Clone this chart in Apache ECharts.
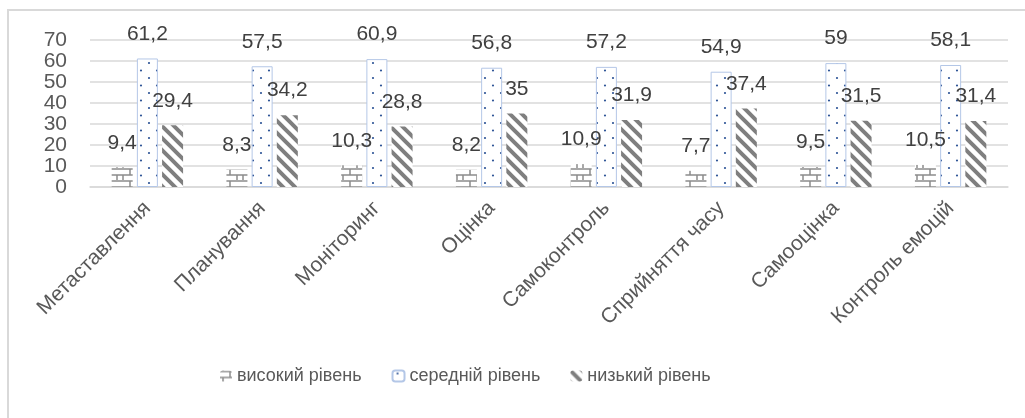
<!DOCTYPE html>
<html>
<head>
<meta charset="utf-8">
<script src="https://cdn.jsdelivr.net/npm/echarts@6/dist/echarts.min.js"></script>
<style>
  html, body { margin: 0; padding: 0; background: #fff; }
  #chart { width: 1025px; height: 418px; }
</style>
</head>
<body>
<div id="chart"></div>
<script>
const categories = ['Метаставлення', 'Планування', 'Моніторинг', 'Оцінка', 'Самоконтроль', 'Сприйняття часу', 'Самооцінка', 'Контроль емоцій'];
const seriesNames = ['високий рівень', 'середній рівень', 'низький рівень'];
const highLevel = [9.4, 8.3, 10.3, 8.2, 10.9, 7.7, 9.5, 10.5];
const midLevel = [61.2, 57.5, 60.9, 56.8, 57.2, 54.9, 59, 58.1];
const lowLevel = [29.4, 34.2, 28.8, 35, 31.9, 37.4, 31.5, 31.4];
const yTicks = { min: 0, max: 70, interval: 10 };

const FONT = '"Liberation Sans", Arial, sans-serif';

// pattern tiles (Excel-like hatch fills)
function tile(w, h, draw) {
    const c = document.createElement('canvas');
    c.width = w; c.height = h;
    const ctx = c.getContext('2d');
    ctx.fillStyle = '#fff';
    ctx.fillRect(0, 0, w, h);
    draw(ctx);
    return { image: c, repeat: 'repeat' };
}

const brick = tile(20, 12, ctx => {
    ctx.strokeStyle = '#8c8c8c';
    ctx.lineWidth = 1.5;
    ctx.beginPath();
    ctx.moveTo(0, 1); ctx.lineTo(20, 1);
    ctx.moveTo(0, 7); ctx.lineTo(20, 7);
    ctx.moveTo(10, 1); ctx.lineTo(10, 7);
    ctx.moveTo(3, 7); ctx.lineTo(3, 12);
    ctx.moveTo(17, 7); ctx.lineTo(17, 12);
    ctx.stroke();
});

const dots = tile(16, 15, ctx => {
    ctx.fillStyle = '#2f5597';
    ctx.beginPath();
    ctx.arc(5, 3, 1.1, 0, Math.PI * 2);
    ctx.arc(13, 10.5, 1.1, 0, Math.PI * 2);
    ctx.fill();
});

const stripes = tile(12, 12, ctx => {
    ctx.strokeStyle = '#7f7f7f';
    ctx.lineWidth = 4;
    ctx.beginPath();
    ctx.moveTo(-2, -2); ctx.lineTo(14, 14);
    ctx.moveTo(-8, 4); ctx.lineTo(2, 14);
    ctx.moveTo(10, -2); ctx.lineTo(20, 8);
    ctx.stroke();
});

const labelFmt = p => String(p.value).replace('.', ',');

function barSeries(name, data, fill, border) {
    return {
        name: name,
        type: 'bar',
        data: data,
        barWidth: 21,
        barGap: '20%',
        itemStyle: {
            color: fill,
            borderColor: border || 'transparent',
            borderWidth: border ? 1 : 0
        },
        label: {
            show: true,
            position: 'top',
            distance: 14,
            formatter: labelFmt,
            color: '#404040',
            fontSize: 21,
            fontFamily: FONT
        }
    };
}

const chart = echarts.init(document.getElementById('chart'));
chart.setOption({
    animation: false,
    backgroundColor: '#fff',
    graphic: [{
        type: 'rect',
        shape: { x: 8, y: 10, width: 1200, height: 600 },
        style: { fill: null, stroke: '#d9d9d9', lineWidth: 2 },
        silent: true
    }],
    grid: { left: 90, right: 17, top: 40, height: 147, containLabel: false },
    legend: {
        left: 215,
        top: 362,
        itemWidth: 12,
        itemHeight: 11,
        itemGap: 30,
        textStyle: { color: '#595959', fontSize: 18, fontFamily: FONT },
        data: seriesNames
    },
    xAxis: {
        type: 'category',
        data: categories,
        axisLine: { lineStyle: { color: '#d9d9d9', width: 1.5 } },
        axisTick: { show: false },
        axisLabel: {
            rotate: 45,
            margin: 18,
            interval: 0,
            color: '#595959',
            fontSize: 21,
            fontFamily: FONT
        }
    },
    yAxis: {
        type: 'value',
        min: yTicks.min,
        max: yTicks.max,
        interval: yTicks.interval,
        axisLine: { show: false },
        axisTick: { show: false },
        splitLine: { lineStyle: { color: '#d9d9d9', width: 1.5 } },
        axisLabel: {
            margin: 23,
            color: '#595959',
            fontSize: 21,
            fontFamily: FONT
        }
    },
    series: [
        barSeries(seriesNames[0], highLevel, brick),
        barSeries(seriesNames[1], midLevel, dots, '#b4c7e7'),
        barSeries(seriesNames[2], lowLevel, stripes)
    ]
});
</script>
</body>
</html>
